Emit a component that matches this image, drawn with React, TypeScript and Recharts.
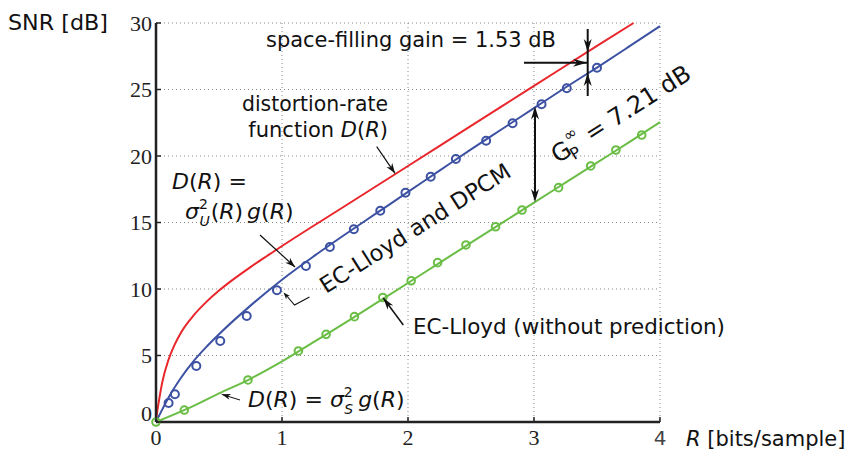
import { ComposedChart, Line, Scatter, XAxis, YAxis, CartesianGrid } from "recharts";

// distortion-rate function (red)
const rdRate = [0, 0.01, 0.02, 0.05, 0.1, 0.15, 0.2, 0.3, 0.4, 0.5, 0.6, 0.75, 0.9, 1.0, 1.5, 2.0, 2.5, 3.0, 3.5, 3.79];
const rdSnr = [0, 0.8, 1.4, 3.0, 4.7, 5.85, 6.75, 8.03, 9.03, 9.88, 10.63, 11.65, 12.6, 13.23, 16.24, 19.25, 22.26, 25.27, 28.28, 30.0];

// EC-Lloyd and DPCM, theory (blue line)
const dpcmRate = [0, 0.05, 0.1, 0.2, 0.3, 0.4, 0.5, 0.75, 1.0, 1.25, 1.5, 1.75, 2.0, 2.25, 2.5, 2.75, 3.0, 3.25, 3.5, 3.75, 4.0];
const dpcmSnr = [0, 0.95, 1.85, 3.35, 4.6, 5.65, 6.6, 8.75, 10.7, 12.45, 14.1, 15.7, 17.3, 18.9, 20.5, 22.05, 23.6, 25.15, 26.65, 28.2, 29.77];

// EC-Lloyd without prediction, theory (green line)
const ecsqRate = [0, 0.25, 0.5, 0.75, 1.0, 1.25, 1.5, 1.75, 2.0, 2.25, 2.5, 2.75, 3.0, 3.25, 3.5, 3.75, 4.0];
const ecsqSnr = [0, 1.0, 2.15, 3.25, 4.55, 6.0, 7.45, 8.95, 10.45, 11.97, 13.48, 14.99, 16.5, 18.0, 19.5, 21.0, 22.55];

// simulated points (circles)
const dpcmMarkRate = [0.1, 0.15, 0.32, 0.51, 0.72, 0.96, 1.19, 1.38, 1.57, 1.78, 1.98, 2.18, 2.38, 2.62, 2.83, 3.06, 3.26, 3.5];
const dpcmMarkSnr = [1.43, 2.08, 4.21, 6.09, 7.97, 9.9, 11.73, 13.16, 14.49, 15.89, 17.24, 18.44, 19.77, 21.15, 22.46, 23.89, 25.09, 26.64];
const ecsqMarkRate = [0, 0.225, 0.73, 1.13, 1.35, 1.575, 1.8, 2.025, 2.235, 2.46, 2.695, 2.905, 3.195, 3.45, 3.65, 3.855];
const ecsqMarkSnr = [0, 0.9, 3.16, 5.34, 6.59, 7.92, 9.36, 10.62, 11.98, 13.31, 14.68, 15.94, 17.62, 19.25, 20.45, 21.58];

const xTicks = [0, 1, 2, 3, 4];
const yTicks = [0, 5, 10, 15, 20, 25, 30];

const RED = "#e8262b";
const BLUE = "#3d51a3";
const GREEN = "#6abd45";
const SANS = "'DejaVu Sans', sans-serif";
const SERIF = "'Liberation Serif', 'DejaVu Serif', serif";

const toRows = (xs: number[], ys: number[]) => xs.map((r, i) => ({ r, snr: ys[i] }));

const rdData = toRows(rdRate, rdSnr);
const dpcmData = toRows(dpcmRate, dpcmSnr);
const ecsqData = toRows(ecsqRate, ecsqSnr);
const dpcmMarks = toRows(dpcmMarkRate, dpcmMarkSnr);
const ecsqMarks = toRows(ecsqMarkRate, ecsqMarkSnr);

const XTick = (props: any) => {
    const { x, y, payload } = props;
    const isLast = payload.value === 4;
    return (
        <g>
            <line x1={x} x2={x} y1={y} y2={y - 5} stroke="#222" strokeWidth={1.5} />
            <text
                x={x}
                y={y + 23}
                textAnchor="middle"
                fontFamily={isLast ? SANS : SERIF}
                fontSize={isLast ? 20 : 22}
                fill={isLast ? "#444" : "#222"}
            >
                {payload.value}
            </text>
        </g>
    );
};

const YTick = (props: any) => {
    const { x, y, payload } = props;
    const lift = payload.value === 0 ? -9 : 0;
    return (
        <g>
            <line x1={x + 4} x2={x + 9} y1={y} y2={y} stroke="#222" strokeWidth={1.5} />
            <text x={x} y={y + 7.5 + lift} textAnchor="end" fontFamily={SERIF} fontSize={22} fill="#222">
                {payload.value}
            </text>
        </g>
    );
};

const ring = (color: string, r: number) => (p: any) => (
    <circle cx={p.cx} cy={p.cy} r={r} fill="none" stroke={color} strokeWidth={2} />
);

// arrowhead with tip at (x2, y2)
const head = (x1: number, y1: number, x2: number, y2: number, len = 10, half = 3.5) => {
    const a = Math.atan2(y2 - y1, x2 - x1);
    const c = Math.cos(a);
    const s = Math.sin(a);
    const bx = x2 - len * c;
    const by = y2 - len * s;
    const mx = x2 - len * 0.7 * c;
    const my = y2 - len * 0.7 * s;
    return `${x2},${y2} ${bx - half * s},${by + half * c} ${mx},${my} ${bx + half * s},${by - half * c}`;
};

const Arrow = ({ x1, y1, x2, y2, w = 1.2, len = 10, half = 3.5 }: any) => (
    <g>
        <line x1={x1} y1={y1} x2={x2} y2={y2} stroke="#111" strokeWidth={w} />
        <polygon points={head(x1, y1, x2, y2, len, half)} fill="#111" />
    </g>
);

const It = ({ children, ...rest }: any) => (
    <tspan fontStyle="italic" {...rest}>
        {children}
    </tspan>
);

const Overlay = () => (
    <svg width={851} height={451} style={{ position: "absolute", left: 0, top: 0, pointerEvents: "none" }}>
        <g fontFamily={SANS} fontSize={21} fill="#111">
            <text x={8} y={30} fontSize={21} textLength={100} lengthAdjust="spacingAndGlyphs">SNR [dB]</text>
            <text x={686} y={446} fontSize={21}>
                <It>R</It> [bits/sample]
            </text>

            <text x={266} y={47} textLength={290} lengthAdjust="spacingAndGlyphs">space-filling gain = 1.53 dB</text>
            <Arrow x1={524} y1={62.7} x2={587} y2={62.7} w={2} len={14} half={4} />
            <line x1={587.7} y1={29} x2={587.7} y2={96} stroke="#111" strokeWidth={2} />
            <polygon points={head(587.7, 30, 587.7, 52, 13, 4)} fill="#111" />
            <polygon points={head(587.7, 96, 587.7, 73, 13, 4)} fill="#111" />

            <text x={388} y={111} textAnchor="end" textLength={146} lengthAdjust="spacingAndGlyphs">distortion-rate</text>
            <text x={388} y={137} textAnchor="end">
                function <It>D</It>(<It>R</It>)
            </text>
            <Arrow x1={376.7} y1={146.7} x2={395} y2={173.3} />

            <text x={172} y={189} fontSize={22}>
                <It>D</It>(<It>R</It>)<tspan dx={7}>=</tspan>
            </text>
            <text x={185} y={219} fontSize={22}>
                <It>σ</It>
                <tspan fontSize={14} dy={-10}>2</tspan>
                <It fontSize={14} dx={-8.5} dy={17}>U</It>
                <tspan dy={-7} dx={1}>(</tspan>
                <It>R</It>)
                <It dx={4}>g</It>(<It>R</It>)
            </text>
            <Arrow x1={260} y1={235} x2={295} y2={267} />

            <text transform="translate(415,228) rotate(-32.4)" textAnchor="middle" dominantBaseline="central" fontSize={22.5}>
                EC-Lloyd and DPCM
            </text>
            <polyline points="309.5,297 294.5,305 286,295" fill="none" stroke="#111" strokeWidth={1.1} />
            <polygon points={head(294.5, 305, 283.5, 292.5, 7, 2.5)} fill="#111" />

            <text transform="translate(621,114) rotate(-32.4)" textAnchor="middle" dominantBaseline="central" fontSize={24}>
                G<tspan fontSize={16} dy={-11} dx={1}>∞</tspan>
                <tspan fontSize={16} dx={-17} dy={19}>P</tspan>
                <tspan dy={-8} dx={14}>= 7.21 dB</tspan>
            </text>
            <line x1={535} y1={110} x2={535} y2={198} stroke="#111" strokeWidth={2} />
            <polygon points={head(535, 150, 535, 106.5, 13, 4)} fill="#111" />
            <polygon points={head(535, 160, 535, 202, 13, 4)} fill="#111" />

            <text x={413} y={334} textLength={312} lengthAdjust="spacingAndGlyphs">EC-Lloyd (without prediction)</text>
            <Arrow x1={403.3} y1={325} x2={383.3} y2={298} w={1.5} len={12} half={3.5} />

            <text x={248} y={407} fontSize={22}>
                <It>D</It>(<It>R</It>)<tspan dx={7}>=</tspan>
                <It dx={7}>σ</It>
                <tspan fontSize={14} dy={-10}>2</tspan>
                <It fontSize={14} dx={-8.5} dy={17}>S</It>
                <It dy={-7} dx={5}>g</It>(<It>R</It>)
            </text>
            <Arrow x1={240} y1={400} x2={221.7} y2={394.3} w={1} len={9} half={3} />
        </g>
    </svg>
);

export default function App() {
    return (
        <div style={{ position: "absolute", left: 0, top: 0, width: 851, height: 451, background: "#fff" }}>
            <ComposedChart width={851} height={451} margin={{ top: 23, right: 191, bottom: 0, left: 0 }}>
                <CartesianGrid stroke="#888" strokeDasharray="1 3" />
                <XAxis
                    type="number"
                    dataKey="r"
                    domain={[0, 4]}
                    ticks={xTicks}
                    height={29}
                    tickSize={0}
                    tickMargin={0}
                    tick={<XTick />}
                    axisLine={{ stroke: "#222", strokeWidth: 2.5 }}
                    tickLine={false}
                    interval={0}
                />
                <YAxis
                    type="number"
                    dataKey="snr"
                    domain={[0, 30]}
                    ticks={yTicks}
                    width={156}
                    tickSize={0}
                    tickMargin={4}
                    tick={<YTick />}
                    axisLine={{ stroke: "#222", strokeWidth: 2.5 }}
                    tickLine={false}
                    interval={0}
                />
                <Line data={rdData} dataKey="snr" type="monotone" stroke={RED} strokeWidth={2} dot={false} isAnimationActive={false} />
                <Line data={dpcmData} dataKey="snr" type="monotone" stroke={BLUE} strokeWidth={2} dot={false} isAnimationActive={false} />
                <Line data={ecsqData} dataKey="snr" type="monotone" stroke={GREEN} strokeWidth={2} dot={false} isAnimationActive={false} />
                <Scatter data={dpcmMarks} fill={BLUE} shape={ring(BLUE, 4)} isAnimationActive={false} />
                <Scatter data={ecsqMarks} fill={GREEN} shape={ring(GREEN, 3.8)} isAnimationActive={false} />
            </ComposedChart>
            <Overlay />
        </div>
    );
}
